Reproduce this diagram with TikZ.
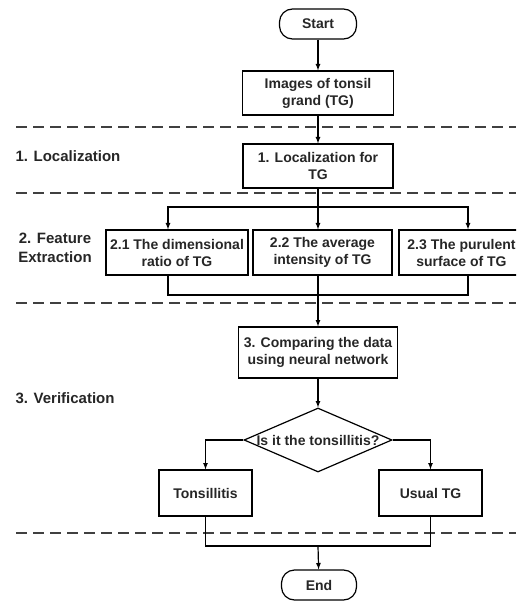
\documentclass[tikz,border=0pt]{standalone}
\usepackage{fontspec}
\setmainfont{Liberation Sans}
\usetikzlibrary{positioning, calc, arrows, shapes}
\tikzset{every picture/.style={line width=1.2pt, >=latex}}
\tikzset{process/.style={draw, rectangle, inner sep=0pt, align=center, text=black!85, font=\bfseries\fontsize{14}{17}\selectfont}}
\tikzset{terminal/.style={process, rounded corners=13pt, minimum width=77pt, minimum height=30pt}}
\tikzset{decision/.style={process, diamond, minimum width=148pt, minimum height=64pt}}
\tikzset{stage label/.style={align=center, inner sep=0pt, text=black!85, font=\bfseries\fontsize{15}{19}\selectfont}}
\tikzset{stage line/.style={black!75, dash pattern=on 11pt off 6pt, line width=1.4pt}}
\tikzset{flow/.style={->}}

\begin{document}
\begin{tikzpicture}[x=1pt, y=-1pt]
      \clip (0,0) rectangle (516,601);
      % stage borders
      \foreach \y in {127,193,303,533}
        \draw[stage line] (16,\y) -- (516,\y);

      \node[terminal] (start) at (318,24) {Start};
      \node[process, minimum width=151pt, minimum height=44pt] (images) at (318,93) {Images of tonsil\\grand (TG)};
      \node[process, minimum width=150pt, minimum height=44pt] (local) at (318,166) {1. Localization for\\TG};

      \node[process, minimum width=142pt, minimum height=45pt] (ratio) at (177,252.5) {2.1 The dimensional\\ratio of TG};
      \node[process, minimum width=139pt, minimum height=45pt] (intensity) at (322.5,252.5) {2.2 The average\\intensity of TG};
      \node[process, minimum width=125pt, minimum height=45pt] (surface) at (461.5,252.5) {2.3 The purulent\\surface of TG};

      \node[process, minimum width=159pt, minimum height=51pt] (compare) at (318,352.5) {3. Comparing the data\\using neural network};
      \node[decision] (check) at (318,440) {\makebox[0pt]{Is it the tonsillitis?}};
      \node[process, minimum width=93pt, minimum height=46pt] (tonsillitis) at (205.5,493) {Tonsillitis};
      \node[process, minimum width=103pt, minimum height=46pt] (usual) at (430.5,493) {Usual TG};
      \node[terminal, minimum width=75pt] (end) at (319,585) {End};

      % stage names
      \node[stage label, anchor=west] (stage1) at (15,156) {1. Localization};
      \node[stage label] (stage2) at (55,248) {2. Feature\\Extraction};
      \node[stage label, anchor=west] (stage3) at (15,398) {3. Verification};

      \coordinate (fork) at (318,207);
      \coordinate (forkL) at (168,207);
      \coordinate (forkR) at (468,207);
      \coordinate (join) at (318,295);
      \coordinate (merge) at (318,546);

      \draw[flow] (start) -- (images);
      \draw[flow] (images) -- (local);
      \draw[flow] (local.south) -- (fork |- intensity.north);
      \draw[flow] (fork) -| (forkL |- ratio.north);
      \draw[flow] (fork) -| (forkR |- surface.north);
      \draw (forkL |- ratio.south) |- (join);
      \draw (forkR |- surface.south) |- (join);
      \draw[flow] (join |- intensity.south) -- (compare.north);
      \draw[flow] (compare.south) -- (check.north);
      \draw[flow] (check.west) -| (tonsillitis.north);
      \draw[flow] (check.east) -| (usual.north);
      \draw (tonsillitis.south) |- (merge);
      \draw (usual.south) |- (merge);
      \draw[flow] (merge) -- (end);
\end{tikzpicture}
\end{document}
